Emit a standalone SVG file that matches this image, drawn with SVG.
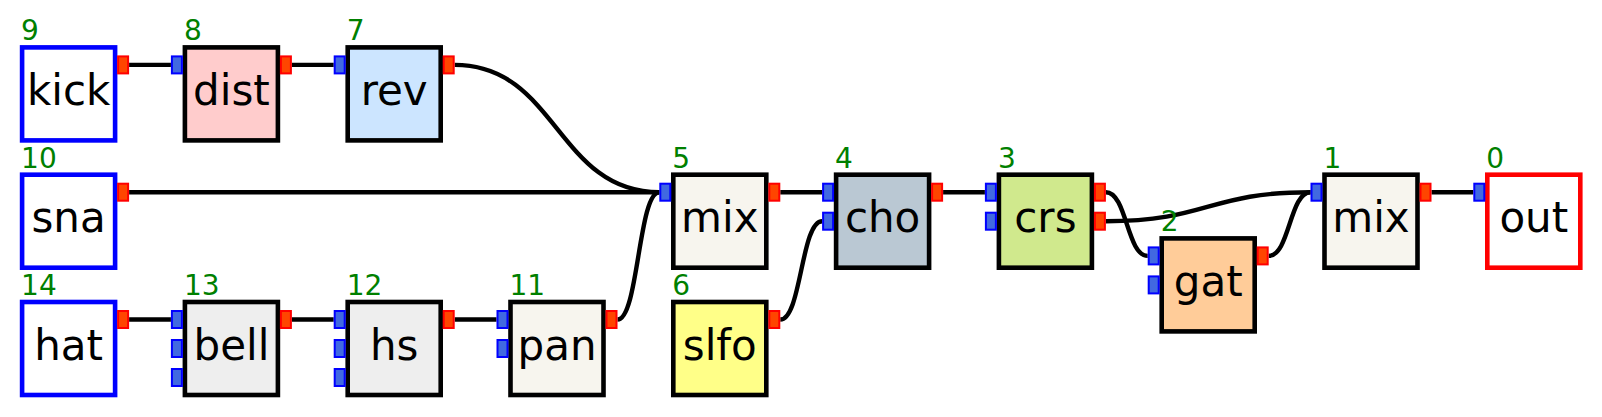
<svg xmlns="http://www.w3.org/2000/svg" width="1602" height="417" viewBox="0 0 1602 417">
<style>
.bg{fill:#ffffff}
.box{stroke:#000000;stroke-width:4.6}
.src{fill:#ffffff;stroke:#0000ff;stroke-width:4.6}
.dst{fill:#ffffff;stroke:#ff0000;stroke-width:4.6}
.pin{fill:#4169e1;stroke:#0000ff;stroke-width:2}
.pout{fill:#ff4500;stroke:#ff0000;stroke-width:2}
.lbl{font-family:"DejaVu Sans","Liberation Sans",sans-serif;font-size:42px;fill:#000000;text-anchor:middle}
.num{font-family:"DejaVu Sans","Liberation Sans",sans-serif;font-size:28px;fill:#008000}
.wire{fill:none;stroke:#000000;stroke-width:4.4}
</style>
<defs>
<rect id="pi0" class="pin" x="-13" y="9" width="10" height="17"/>
<rect id="pi1" class="pin" x="-13" y="38" width="10" height="17"/>
<rect id="pi2" class="pin" x="-13" y="67" width="10" height="17"/>
<rect id="po0" class="pout" x="96" y="9" width="10" height="17"/>
<rect id="po1" class="pout" x="96" y="38" width="10" height="17"/>
</defs>
<rect class="bg" x="0" y="0" width="1602" height="417"/>
<g id="connectors">
<path class="wire" d="M129.1,64.9 H170.9"/>
<path class="wire" d="M291.9,64.9 H333.7"/>
<path class="wire" d="M454.7,64.9 C557,64.9 557,192.2 659.3,192.2"/>
<path class="wire" d="M129.1,192.2 H659.3"/>
<path class="wire" d="M129.1,319.5 H170.9"/>
<path class="wire" d="M291.9,319.5 H333.7"/>
<path class="wire" d="M454.7,319.5 H496.5"/>
<path class="wire" d="M617.5,319.5 C638.4,319.5 638.4,192.2 659.3,192.2"/>
<path class="wire" d="M780.3,192.2 H822.1"/>
<path class="wire" d="M780.3,319.5 C801.2,319.5 801.2,221.2 822.1,221.2"/>
<path class="wire" d="M943.1,192.2 H984.9"/>
<path class="wire" d="M1105.9,192.2 C1126.8,192.2 1126.8,255.9 1147.7,255.9"/>
<path class="wire" d="M1105.9,221.2 C1208.2,221.2 1208.2,192.2 1310.5,192.2"/>
<path class="wire" d="M1268.7,255.9 C1289.6,255.9 1289.6,192.2 1310.5,192.2"/>
<path class="wire" d="M1431.5,192.2 H1473.3"/>
</g>
<g id="n9" transform="translate(22.1,47.4)">
<rect class="src" x="0" y="0" width="93" height="93"/>
<use href="#po0"/>
<text class="num" x="-1" y="-7">9</text>
<text class="lbl" x="46.5" y="57.5">kick</text>
</g>
<g id="n8" transform="translate(184.9,47.4)">
<rect class="box" fill="#ffcccc" x="0" y="0" width="93" height="93"/>
<use href="#pi0"/><use href="#po0"/>
<text class="num" x="-1" y="-7">8</text>
<text class="lbl" x="46.5" y="57.5">dist</text>
</g>
<g id="n7" transform="translate(347.7,47.4)">
<rect class="box" fill="#cce5ff" x="0" y="0" width="93" height="93"/>
<use href="#pi0"/><use href="#po0"/>
<text class="num" x="-1" y="-7">7</text>
<text class="lbl" x="46.5" y="57.5">rev</text>
</g>
<g id="n10" transform="translate(22.1,174.7)">
<rect class="src" x="0" y="0" width="93" height="93"/>
<use href="#po0"/>
<text class="num" x="-1" y="-7">10</text>
<text class="lbl" x="46.5" y="57.5">sna</text>
</g>
<g id="n14" transform="translate(22.1,302)">
<rect class="src" x="0" y="0" width="93" height="93"/>
<use href="#po0"/>
<text class="num" x="-1" y="-7">14</text>
<text class="lbl" x="46.5" y="57.5">hat</text>
</g>
<g id="n13" transform="translate(184.9,302)">
<rect class="box" fill="#eeeeee" x="0" y="0" width="93" height="93"/>
<use href="#pi0"/><use href="#pi1"/><use href="#pi2"/><use href="#po0"/>
<text class="num" x="-1" y="-7">13</text>
<text class="lbl" x="46.5" y="57.5">bell</text>
</g>
<g id="n12" transform="translate(347.7,302)">
<rect class="box" fill="#eeeeee" x="0" y="0" width="93" height="93"/>
<use href="#pi0"/><use href="#pi1"/><use href="#pi2"/><use href="#po0"/>
<text class="num" x="-1" y="-7">12</text>
<text class="lbl" x="46.5" y="57.5">hs</text>
</g>
<g id="n11" transform="translate(510.5,302)">
<rect class="box" fill="#f7f5ee" x="0" y="0" width="93" height="93"/>
<use href="#pi0"/><use href="#pi1"/><use href="#po0"/>
<text class="num" x="-1" y="-7">11</text>
<text class="lbl" x="46.5" y="57.5">pan</text>
</g>
<g id="n5" transform="translate(673.3,174.7)">
<rect class="box" fill="#f7f5ee" x="0" y="0" width="93" height="93"/>
<use href="#pi0"/><use href="#po0"/>
<text class="num" x="-1" y="-7">5</text>
<text class="lbl" x="46.5" y="57.5">mix</text>
</g>
<g id="n6" transform="translate(673.3,302)">
<rect class="box" fill="#ffff88" x="0" y="0" width="93" height="93"/>
<use href="#po0"/>
<text class="num" x="-1" y="-7">6</text>
<text class="lbl" x="46.5" y="57.5">slfo</text>
</g>
<g id="n4" transform="translate(836.1,174.7)">
<rect class="box" fill="#bac8d3" x="0" y="0" width="93" height="93"/>
<use href="#pi0"/><use href="#pi1"/><use href="#po0"/>
<text class="num" x="-1" y="-7">4</text>
<text class="lbl" x="46.5" y="57.5">cho</text>
</g>
<g id="n3" transform="translate(998.9,174.7)">
<rect class="box" fill="#d0e98d" x="0" y="0" width="93" height="93"/>
<use href="#pi0"/><use href="#pi1"/><use href="#po0"/><use href="#po1"/>
<text class="num" x="-1" y="-7">3</text>
<text class="lbl" x="46.5" y="57.5">crs</text>
</g>
<g id="n2" transform="translate(1161.7,238.4)">
<rect class="box" fill="#ffcc99" x="0" y="0" width="93" height="93"/>
<use href="#pi0"/><use href="#pi1"/><use href="#po0"/>
<text class="num" x="-1" y="-7">2</text>
<text class="lbl" x="46.5" y="57.5">gat</text>
</g>
<g id="n1" transform="translate(1324.5,174.7)">
<rect class="box" fill="#f7f5ee" x="0" y="0" width="93" height="93"/>
<use href="#pi0"/><use href="#po0"/>
<text class="num" x="-1" y="-7">1</text>
<text class="lbl" x="46.5" y="57.5">mix</text>
</g>
<g id="n0" transform="translate(1487.3,174.7)">
<rect class="dst" x="0" y="0" width="93" height="93"/>
<use href="#pi0"/>
<text class="num" x="-1" y="-7">0</text>
<text class="lbl" x="46.5" y="57.5">out</text>
</g>
</svg>
